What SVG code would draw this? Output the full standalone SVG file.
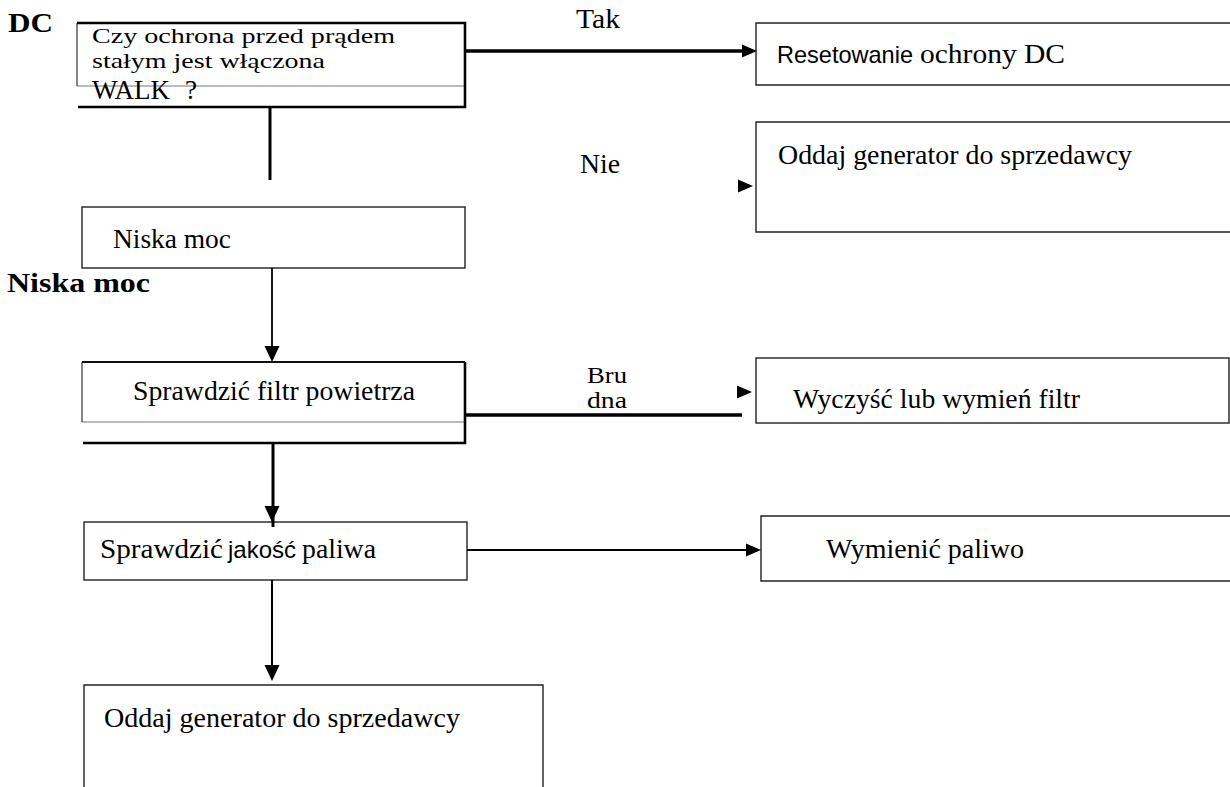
<svg xmlns="http://www.w3.org/2000/svg" width="1230" height="787" viewBox="0 0 1230 787">
<style>
.t{font-family:"Liberation Serif","Times New Roman","DejaVu Serif",serif;font-size:27px;fill:#000}
.tc{font-family:"Liberation Serif","Times New Roman","DejaVu Serif",serif;font-size:23px;fill:#000}
.tq{font-family:"Liberation Serif","Times New Roman","DejaVu Serif",serif;font-size:22px;fill:#000}
.b{font-family:"Liberation Serif","Times New Roman","DejaVu Serif",serif;font-size:28px;font-weight:bold;fill:#000}
.s{font-family:"Liberation Sans",Arial,sans-serif;font-size:24px;fill:#000}
.box{fill:none;stroke:#222;stroke-width:1.4}
.thin{fill:none;stroke:#777;stroke-width:1}
.heavy{fill:none;stroke:#000;stroke-width:2.6}
.c{fill:none;stroke:#000}
.ah{fill:#000}
</style>
<defs>
<path id="ahR" d="M0,0 L-15,-6.5 L-15,6.5 Z"/>
<path id="ahD" d="M0,0 L-7.5,-16 L7.5,-16 Z"/>
</defs>
<rect width="1230" height="787" fill="#fff"/>

<g id="title-dc"><text class="b" x="8" y="32" textLength="45" lengthAdjust="spacingAndGlyphs">DC</text></g>
<g id="title-niska"><text class="b" x="7" y="292" textLength="143" lengthAdjust="spacingAndGlyphs">Niska moc</text></g>

<g id="node-czy">
<line class="thin" x1="77" y1="86" x2="465" y2="86"/>
<line x1="77" y1="23" x2="77" y2="86" stroke="#444" stroke-width="1.3"/>
<polyline class="heavy" points="77,23 465,23 465,107 78,107"/>
<text class="tq" x="92" y="43" textLength="303" lengthAdjust="spacingAndGlyphs">Czy ochrona przed prądem</text>
<text class="tq" x="92" y="68" textLength="233" lengthAdjust="spacingAndGlyphs">stałym jest włączona</text>
<text class="t" x="92" y="99">WALK <tspan x="185">?</tspan></text>
</g>

<g id="node-reset">
<path class="box" d="M1232,23 H756 V85 H1232"/>
<text class="s" x="777" y="63" textLength="136" lengthAdjust="spacingAndGlyphs">Resetowanie</text>
<text class="t" x="920" y="63" textLength="145" lengthAdjust="spacingAndGlyphs">ochrony DC</text>
</g>

<g id="node-oddaj1">
<path class="box" d="M1232,122 H756 V232 H1232"/>
<text class="t" x="778" y="164" textLength="354" lengthAdjust="spacingAndGlyphs">Oddaj generator do sprzedawcy</text>
</g>

<g id="node-niska">
<rect class="box" x="82" y="207" width="383" height="61"/>
<text class="t" x="113" y="248" textLength="118" lengthAdjust="spacingAndGlyphs">Niska moc</text>
</g>

<g id="node-filtr">
<line class="thin" x1="82" y1="422" x2="465" y2="422"/>
<line x1="82" y1="362" x2="82" y2="422" stroke="#444" stroke-width="1.3"/>
<line x1="82" y1="362" x2="465" y2="362" stroke="#111" stroke-width="2"/>
<polyline class="heavy" points="465,362 465,443 83,443"/>
<text class="t" x="133" y="400" textLength="282" lengthAdjust="spacingAndGlyphs">Sprawdzić filtr powietrza</text>
</g>

<g id="node-wyczysc">
<rect class="box" x="756" y="358" width="473" height="65"/>
<text class="t" x="793" y="408" textLength="287" lengthAdjust="spacingAndGlyphs">Wyczyść lub wymień filtr</text>
</g>

<g id="node-jakosc">
<rect class="box" x="84" y="522" width="383" height="58"/>
<text class="t" x="100" y="558" textLength="123" lengthAdjust="spacingAndGlyphs">Sprawdzić</text>
<text class="s" x="228" y="558" textLength="68" lengthAdjust="spacingAndGlyphs">jakość</text>
<text class="t" x="302" y="558" textLength="74" lengthAdjust="spacingAndGlyphs">paliwa</text>
</g>

<g id="node-wymien">
<path class="box" d="M1232,516 H761 V581 H1232"/>
<text class="t" x="826" y="558" textLength="198" lengthAdjust="spacingAndGlyphs">Wymienić paliwo</text>
</g>

<g id="node-oddaj2">
<path class="box" d="M84,790 V685 H543 V790"/>
<text class="t" x="104" y="727" textLength="356" lengthAdjust="spacingAndGlyphs">Oddaj generator do sprzedawcy</text>
</g>

<g id="connectors">
<line class="c" stroke-width="3.5" x1="465" y1="51" x2="745" y2="51"/>
<use href="#ahR" class="ah" x="757" y="51"/>
<text class="t" x="576" y="28" textLength="44" lengthAdjust="spacingAndGlyphs">Tak</text>

<line class="c" stroke-width="3" x1="270" y1="107" x2="270" y2="180"/>
<text class="t" x="580" y="173" textLength="40" lengthAdjust="spacingAndGlyphs">Nie</text>
<use href="#ahR" class="ah" x="753" y="186"/>

<line class="c" stroke-width="1.8" x1="272" y1="268" x2="272" y2="350"/>
<use href="#ahD" class="ah" x="272" y="362"/>

<line class="c" stroke-width="3.5" x1="465" y1="415" x2="742" y2="415"/>
<use href="#ahR" class="ah" x="752" y="392"/>
<text class="tc" x="587" y="383" textLength="40" lengthAdjust="spacingAndGlyphs">Bru</text>
<text class="tc" x="587" y="408" textLength="40" lengthAdjust="spacingAndGlyphs">dna</text>

<line class="c" stroke-width="3" x1="273" y1="443" x2="273" y2="527"/>
<use href="#ahD" class="ah" x="272" y="522"/>

<line class="c" stroke-width="2" x1="467" y1="550" x2="750" y2="550"/>
<use href="#ahR" class="ah" x="761" y="550"/>

<line class="c" stroke-width="2" x1="272" y1="580" x2="272" y2="668"/>
<use href="#ahD" class="ah" x="272" y="681"/>
</g>
</svg>
